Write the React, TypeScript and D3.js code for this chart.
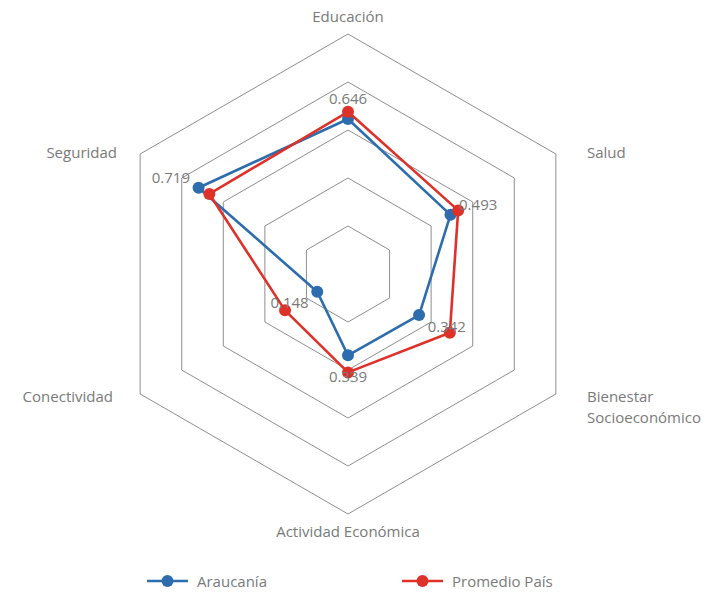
import React from "react";
import * as d3 from "d3";

const categories = ["Educación", "Salud", "Bienestar\nSocioeconómico", "Actividad Económica", "Conectividad", "Seguridad"];
const araucania = [0.646, 0.493, 0.342, 0.339, 0.148, 0.719];
const promedioPais = [0.676, 0.53, 0.49, 0.41, 0.303, 0.667];
const ringLevels = [0.2, 0.4, 0.6, 0.8, 1.0];
const seriesNames = ["Araucanía", "Promedio País"];

const W = 722, H = 593;
const cx = 348, cy = 274, R = 240;
const BLUE = "#2D6DAE";
const RED = "#DD3129";
const TEXT = "#7a7a7a";
const GRID = "#8f8f8f";
const FONT = "'Open Sans', 'Segoe UI', sans-serif";
const FS = 15;

export default function App() {
  const r = d3.scaleLinear().domain([0, 1]).range([0, R]);
  const angle = d3.scalePoint<number>().domain(d3.range(categories.length)).range([0, (2 * Math.PI * (categories.length - 1)) / categories.length]);
  const pt = (i: number, v: number): [number, number] => {
    const a = angle(i)!;
    return [cx + Math.sin(a) * r(v), cy - Math.cos(a) * r(v)];
  };
  const lineGen = d3.line<[number, number]>().curve(d3.curveLinearClosed);

  const labelPos = [
    { x: 348, y: 16, anchor: "middle" },
    { x: 587, y: 152, anchor: "start" },
    { x: 587, y: 396, anchor: "start" },
    { x: 348, y: 531, anchor: "middle" },
    { x: 113, y: 396, anchor: "end" },
    { x: 117, y: 152, anchor: "end" },
  ];

  const series = [
    { name: seriesNames[0], values: araucania, color: BLUE },
    { name: seriesNames[1], values: promedioPais, color: RED },
  ];

  return (
    <svg width={W} height={H} style={{ position: "absolute", left: 0, top: 0 }}>
      <rect width={W} height={H} fill="#fff" />
      {ringLevels.map((lv) => (
        <path key={lv} d={lineGen(categories.map((_, i) => pt(i, lv)))!} fill="none" stroke={GRID} strokeWidth={1} />
      ))}
      {categories.map((c, i) => {
        const p = labelPos[i];
        const lines = c.split("\n");
        return (
          <text key={c} x={p.x} y={p.y} textAnchor={p.anchor as any} fontFamily={FONT} fontSize={FS} fill={TEXT} dominantBaseline="central">
            {lines.map((l, j) => (
              <tspan key={j} x={p.x} dy={j === 0 ? 0 : 21}>{l}</tspan>
            ))}
          </text>
        );
      })}
      {series.map((s) => (
        <g key={s.name}>
          <path d={lineGen(s.values.map((v, i) => pt(i, v)))!} fill="none" stroke={s.color} strokeWidth={2.6} strokeLinejoin="round" />
          {s.values.map((v, i) => {
            const [x, y] = pt(i, v);
            return <circle key={i} cx={x} cy={y} r={6} fill={s.color} />;
          })}
        </g>
      ))}
      {araucania.map((v, i) => {
        const [x, y] = pt(i, v);
        const a = angle(i)!;
        return (
          <text key={i} x={x + Math.sin(a) * 32} y={y - Math.cos(a) * 21} textAnchor="middle" dominantBaseline="central" fontFamily={FONT} fontSize={FS} fill={TEXT}>
            {d3.format(".3f")(v)}
          </text>
        );
      })}
      {series.map((s, k) => {
        const x0 = k === 0 ? 147 : 402;
        const y0 = 581;
        return (
          <g key={s.name}>
            <line x1={x0} x2={x0 + 41} y1={y0} y2={y0} stroke={s.color} strokeWidth={2.6} />
            <circle cx={x0 + 20.5} cy={y0} r={6} fill={s.color} />
            <text x={x0 + 50} y={y0} dominantBaseline="central" fontFamily={FONT} fontSize={FS} fill={TEXT}>{s.name}</text>
          </g>
        );
      })}
    </svg>
  );
}
